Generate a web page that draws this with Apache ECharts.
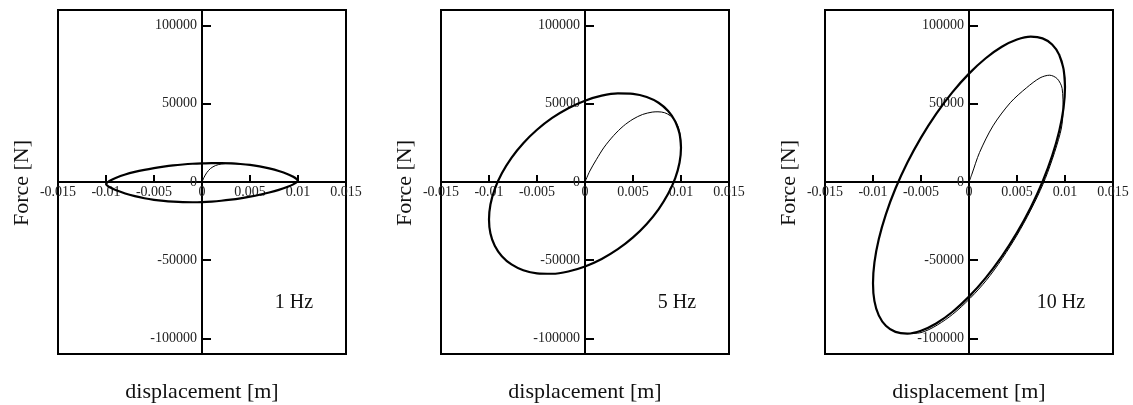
<!DOCTYPE html>
<html>
<head>
<meta charset="utf-8">
<script src="https://cdn.jsdelivr.net/npm/echarts@6/dist/echarts.min.js"></script>
<style>
html,body{margin:0;padding:0;background:#fff;}
#chart{width:1133px;height:405px;}
</style>
</head>
<body>
<div id="chart"></div>
<script>
// ---- data ----
const xTicks = [-0.015, -0.01, -0.005, 0, 0.005, 0.01, 0.015];
const yTicks = [-100000, -50000, 0, 50000, 100000];
const panelLabels = ['1 Hz', '5 Hz', '10 Hz'];
const xTitle = 'displacement [m]';
const yTitle = 'Force [N]';

// 1 Hz steady loop [displacement, force]
const loop1Hz = [
  [0.0100, 800], [0.0098, 2140], [0.0095, 3330], [0.009, 4830], [0.008, 7060], [0.007, 8740],
  [0.006, 10030], [0.005, 10940], [0.004, 11520], [0.003, 11900], [0.002, 12100], [0.001, 12110],
  [0, 11950], [-0.001, 11660], [-0.002, 11200], [-0.003, 10600], [-0.004, 9820], [-0.005, 8890],
  [-0.006, 7780], [-0.007, 6440], [-0.008, 4760], [-0.009, 2580], [-0.0095, 1130], [-0.0098, -10],
  [-0.0100, -1300], [-0.0098, -2590], [-0.0095, -3730], [-0.009, -5180], [-0.008, -7360], [-0.007, -9040],
  [-0.006, -10380], [-0.005, -11390], [-0.004, -12120], [-0.003, -12600], [-0.002, -12900], [-0.001, -12960],
  [0, -12850], [0.001, -12510], [0.002, -12000], [0.003, -11300], [0.004, -10420], [0.005, -9340],
  [0.006, -8130], [0.007, -6740], [0.008, -5060], [0.009, -2930], [0.0095, -1530], [0.0098, -440],
  [0.0100, 800], [0.0098, 2140], [0.0095, 3330]
];
const transient1Hz = [
  [0, 0], [0.0002, 2800], [0.0005, 6000], [0.0009, 8700], [0.0014, 10500], [0.002, 11500],
  [0.003, 12000], [0.004, 11520]
];

// 5 Hz steady loop
const loop5Hz = [
  [0.0100, 22000], [0.00985, 30880], [0.0094, 38750], [0.00866, 45420], [0.00766, 50700], [0.00643, 54390],
  [0.005, 56400], [0.00342, 56690], [0.00174, 55210], [0, 52000], [-0.00174, 47200], [-0.00342, 40950],
  [-0.005, 33400], [-0.00643, 24810], [-0.00766, 15460], [-0.00866, 5580], [-0.0094, -4490], [-0.00985, -14430],
  [-0.0100, -24000], [-0.00985, -32880], [-0.0094, -40750], [-0.00866, -47420], [-0.00766, -52700], [-0.00643, -56390],
  [-0.005, -58400], [-0.00342, -58690], [-0.00174, -57210], [0, -54000], [0.00174, -49200], [0.00342, -42950],
  [0.005, -35400], [0.00643, -26810], [0.00766, -17460], [0.00866, -7580], [0.0094, 2490], [0.00985, 12430],
  [0.0100, 22000], [0.00985, 30880], [0.0094, 38750]
];
const transient5Hz = [
  [0, 0], [0.0005, 7000], [0.0012, 14500], [0.002, 22300], [0.003, 29800], [0.004, 35800],
  [0.005, 40200], [0.006, 43200], [0.007, 44700], [0.0076, 44900], [0.0083, 44300], [0.0089, 42300],
  [0.0094, 39000], [0.0097, 35300], [0.0099, 30500], [0.0100, 22000]
];

// 10 Hz steady loop
const loop10Hz = [
  [0.0100, 60700], [0.00985, 72170], [0.0094, 81320], [0.00866, 87950], [0.00766, 91870], [0.00643, 92930],
  [0.005, 91100], [0.00342, 86470], [0.00174, 79140], [0, 69300], [-0.00174, 57320], [-0.00342, 43580],
  [-0.005, 28400], [-0.00643, 12300], [-0.00766, -4180], [-0.00866, -20650], [-0.0094, -36550], [-0.00985, -51350],
  [-0.0100, -64700], [-0.00985, -76170], [-0.0094, -85320], [-0.00866, -91950], [-0.00766, -95870], [-0.00643, -96930],
  [-0.005, -95100], [-0.00342, -90470], [-0.00174, -83140], [0, -73300], [0.00174, -61320], [0.00342, -47580],
  [0.005, -32400], [0.00643, -16300], [0.00766, 180], [0.00866, 16650], [0.0094, 32550], [0.00985, 47350],
  [0.0100, 60700], [0.00985, 72170], [0.0094, 81320]
];
const transient10Hz = [
  [0, 0], [0.0003, 5000], [0.0011, 18900], [0.0025, 35900], [0.0043, 50700], [0.006, 60300],
  [0.0074, 66600], [0.0084, 68300], [0.0092, 66000], [0.0097, 59900], [0.0098, 46000], [0.0095, 31000],
  [0.0077, -1500], [0.005, -34000], [0.0018, -62900], [-0.0017, -84600], [-0.005, -96300], [-0.00643, -96930]
];

const loops = [loop1Hz, loop5Hz, loop10Hz];
const transients = [transient1Hz, transient5Hz, transient10Hz];

// ---- layout ----
const gridLefts = [58, 441, 825];
const gridTop = 10, gridW = 288, gridH = 344;
const serif = '"Liberation Serif", "Times New Roman", serif';

const grids = [], xAxes = [], yAxes = [], series = [], graphics = [];
gridLefts.forEach((left, i) => {
  grids.push({left: left, top: gridTop, width: gridW, height: gridH, show: true,
    borderColor: '#000', borderWidth: 2, backgroundColor: 'transparent'});
  xAxes.push({type: 'value', gridIndex: i, min: -0.015, max: 0.015, position: 'bottom',
    offset: -gridH / 2,
    axisLine: {onZero: false, lineStyle: {color: '#000', width: 2}},
    axisTick: {inside: true, length: 7, customValues: xTicks, lineStyle: {color: '#000', width: 2}},
    axisLabel: {customValues: xTicks, margin: 3, color: '#222', fontFamily: serif, fontSize: 14,
      formatter: v => String(+(+v).toFixed(3))},
    splitLine: {show: false}});
  yAxes.push({type: 'value', gridIndex: i, min: -110000, max: 110000, position: 'left',
    offset: -gridW / 2,
    axisLine: {onZero: false, lineStyle: {color: '#000', width: 2}},
    axisTick: {inside: true, length: 9, customValues: yTicks, lineStyle: {color: '#000', width: 2}},
    axisLabel: {customValues: yTicks, margin: 5, color: '#222', fontFamily: serif, fontSize: 14,
      formatter: v => String(Math.round(v))},
    splitLine: {show: false}});
  series.push({type: 'line', xAxisIndex: i, yAxisIndex: i, data: transients[i], showSymbol: false,
    smooth: 0.3, lineStyle: {color: '#000', width: 1}, animation: false, z: 3});
  series.push({type: 'line', xAxisIndex: i, yAxisIndex: i, data: loops[i], showSymbol: false,
    smooth: 0.3, lineStyle: {color: '#000', width: 2.2}, animation: false, z: 4});
  const cx = left + gridW / 2;
  graphics.push({type: 'text', x: cx, y: 392,
    style: {text: xTitle, font: '22px ' + serif, fill: '#111', textAlign: 'center', textVerticalAlign: 'middle'}});
  graphics.push({type: 'text', x: left - 36, y: 183, rotation: Math.PI / 2,
    style: {text: yTitle, font: '22px ' + serif, fill: '#111', textAlign: 'center', textVerticalAlign: 'middle'}});
  graphics.push({type: 'text', x: left + 236, y: 303,
    style: {text: panelLabels[i], font: '20px ' + serif, fill: '#111', textAlign: 'center', textVerticalAlign: 'middle'}});
});

const chart = echarts.init(document.getElementById('chart'), null, {renderer: 'canvas'});
chart.setOption({
  backgroundColor: '#fff',
  animation: false,
  grid: grids,
  xAxis: xAxes,
  yAxis: yAxes,
  series: series,
  graphic: graphics
});
</script>
</body>
</html>
